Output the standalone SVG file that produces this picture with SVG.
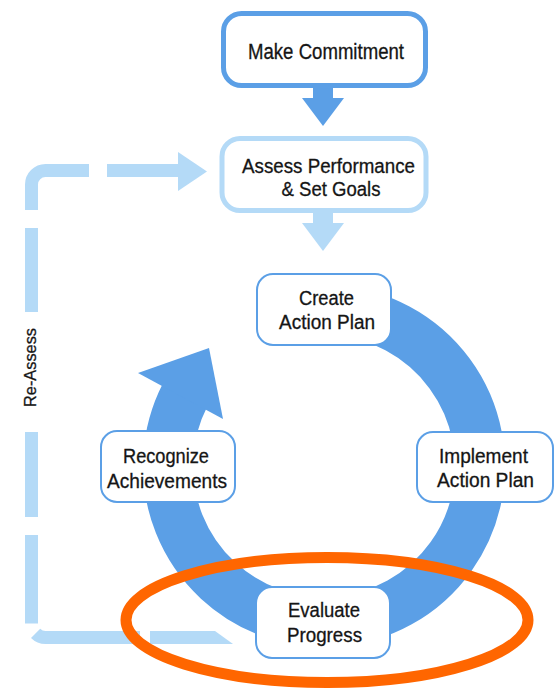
<svg xmlns="http://www.w3.org/2000/svg" width="559" height="689" viewBox="0 0 559 689">
<style>
  .txt { font-family: "Liberation Sans", Arial, sans-serif; font-size: 20px; fill: #151515; stroke: #151515; stroke-width: 0.3; text-anchor: middle; }
  .cyc { fill: #ffffff; stroke: #5b9fe6; stroke-width: 2; }
  .bigdark { fill: #ffffff; stroke: #5b9fe6; stroke-width: 5; }
  .biglight { fill: #ffffff; stroke: #b4daf7; stroke-width: 5; }
  .dash { fill: none; stroke: #b4daf7; stroke-width: 13; stroke-linecap: butt; }
  .lightfill { fill: #b4daf7; }
  .darkfill { fill: #5b9fe6; }
</style>
<rect x="0" y="0" width="559" height="689" fill="#ffffff"/>

<g id="connectors">
  <!-- Re-Assess dashed loop -->
  <g id="reassess-loop">
    <path class="dash" d="M89,170.5 H45.5 A14,14 0 0 0 31.5,184.5 V210"/>
    <path class="dash" d="M107,170.5 H180"/>
    <polygon class="lightfill" points="178,152 207,171.5 178,191"/>
    <path class="dash" d="M31.5,228 V312"/>
    <path class="dash" d="M31.5,432 V517"/>
    <path class="dash" d="M31.5,535 V623.5"/>
    <path class="dash" d="M35.6,633.4 A14,14 0 0 0 45.5,637.5 H140"/>
    <polygon class="lightfill" points="150,631 215,631 233,644 150,644"/>
  </g>
  <!-- Make Commitment -> Assess -->
  <g id="arrow-commit-assess">
    <rect class="darkfill" x="313" y="86" width="20" height="13"/>
    <polygon class="darkfill" points="302,98 344,98 323,126"/>
  </g>
  <!-- Assess -> Create -->
  <g id="arrow-assess-create">
    <rect class="lightfill" x="313" y="211" width="20" height="13"/>
    <polygon class="lightfill" points="302,223 344,223 323,251"/>
  </g>
  <!-- Cycle ring -->
  <g id="cycle-ring">
    <path d="M337.6,310.6 A156,156 0 1 1 185.0,395.2" fill="none" stroke="#5b9fe6" stroke-width="50"/>
    <polygon class="darkfill" points="138,373 209,348 223,419"/>
  </g>
</g>

<g id="label-reassess">
  <text class="txt" style="font-size:17px" transform="translate(36,367.5) rotate(-90)" x="0" y="0" textLength="79" lengthAdjust="spacingAndGlyphs">Re-Assess</text>
</g>

<g id="node-make-commitment">
  <rect class="bigdark" x="223.5" y="13.5" width="202" height="72" rx="18"/>
  <text class="txt" style="font-size:21.5px" x="326" y="59" textLength="156" lengthAdjust="spacingAndGlyphs">Make Commitment</text>
</g>

<g id="node-assess">
  <rect class="biglight" x="222" y="138.5" width="204" height="72" rx="18"/>
  <text class="txt" x="328.5" y="173" textLength="173" lengthAdjust="spacingAndGlyphs">Assess Performance</text>
  <text class="txt" x="331" y="196" textLength="99" lengthAdjust="spacingAndGlyphs">&amp; Set Goals</text>
</g>

<g id="node-create">
  <rect class="cyc" x="257" y="274" width="134" height="71" rx="16"/>
  <text class="txt" x="326.5" y="305" textLength="55" lengthAdjust="spacingAndGlyphs">Create</text>
  <text class="txt" x="327" y="329" textLength="96" lengthAdjust="spacingAndGlyphs">Action Plan</text>
</g>

<g id="node-implement">
  <rect class="cyc" x="417" y="432" width="136" height="70" rx="16"/>
  <text class="txt" x="483.5" y="463" textLength="89" lengthAdjust="spacingAndGlyphs">Implement</text>
  <text class="txt" x="485.5" y="487" textLength="97" lengthAdjust="spacingAndGlyphs">Action Plan</text>
</g>

<g id="node-recognize">
  <rect class="cyc" x="101" y="431" width="134" height="71" rx="16"/>
  <text class="txt" x="166" y="463" textLength="86" lengthAdjust="spacingAndGlyphs">Recognize</text>
  <text class="txt" x="167" y="488" textLength="120" lengthAdjust="spacingAndGlyphs">Achievements</text>
</g>

<g id="node-evaluate">
  <rect class="cyc" x="256" y="587" width="134" height="71" rx="16"/>
  <text class="txt" x="324" y="617" textLength="72" lengthAdjust="spacingAndGlyphs">Evaluate</text>
  <text class="txt" x="324.5" y="642" textLength="75" lengthAdjust="spacingAndGlyphs">Progress</text>
</g>

<g id="highlight">
  <ellipse cx="327" cy="620" rx="201" ry="62.5" fill="none" stroke="#ff6600" stroke-width="11"/>
</g>
</svg>
